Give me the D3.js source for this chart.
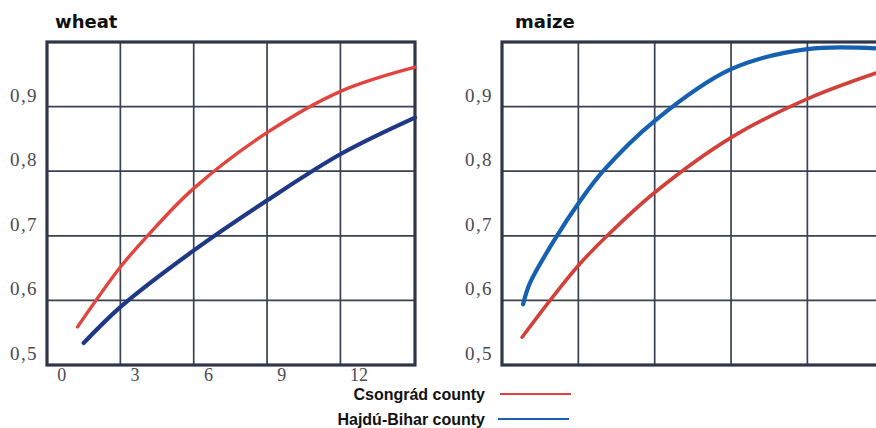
<!DOCTYPE html>
<html>
<head>
<meta charset="utf-8">
<script src="https://cdn.jsdelivr.net/npm/d3@7"></script>
<style>
  html, body { margin: 0; padding: 0; background: #fff; }
  svg { display: block; }
</style>
</head>
<body>
<svg id="chart" width="876" height="428"></svg>
<script>
// tick values / labels
const yTicks = [0.5, 0.6, 0.7, 0.8, 0.9];
const yTickLabels = ["0,5", "0,6", "0,7", "0,8", "0,9"];
const xTicks = [0, 3, 6, 9, 12];
const xTickLabels = ["0", "3", "6", "9", "12"];
const gridX = [2.4, 5.4, 8.4, 11.4];

// wheat
const wheatCsongradX = [0.65, 2.41, 3.51, 5.39, 8.41, 11.43, 14.45];
const wheatCsongradY = [0.559, 0.652, 0.7, 0.773, 0.86, 0.924, 0.961];
const wheatHajduX = [0.9, 2.41, 5.39, 8.41, 11.43, 14.45];
const wheatHajduY = [0.534, 0.59, 0.677, 0.755, 0.827, 0.883];

// maize
const maizeCsongradX = [0.19, 1.29, 2.4, 3.53, 5.4, 8.4, 11.4, 14.1];
const maizeCsongradY = [0.543, 0.6, 0.654, 0.7, 0.767, 0.852, 0.912, 0.952];
const maizeHajduX = [0.23, 0.5, 1.56, 2.4, 3.37, 5.4, 8.4, 11.4, 14.1];
const maizeHajduY = [0.594, 0.627, 0.7, 0.75, 0.8, 0.878, 0.958, 0.989, 0.99];

const legendNames = ["Csongrád county", "Hajdú-Bihar county"];
const legendColors = ["#e2413c", "#1d5fae"];

const svg = d3.select("#chart");

const yScale = d3.scaleLinear().domain([0.5, 1.0]).range([365, 42]);

const zip = (xs, ys) => xs.map((x, i) => [x, ys[i]]);

function drawPanel(opts) {
  const x = d3.scaleLinear().domain([-0.6, 14.45]).range(opts.xRange);
  const g = svg.append("g");
  const [x0, x1] = opts.xRange;
  const yTop = yScale(1.0), yBot = yScale(0.5);

  // title
  g.append("text")
    .attr("x", opts.titleX)
    .attr("y", 28)
    .attr("font-family", "DejaVu Sans, sans-serif")
    .attr("font-weight", "bold")
    .attr("font-size", "18px")
    .attr("fill", "#111")
    .text(opts.title);

  // horizontal grid
  g.selectAll("line.hg")
    .data(yTicks.slice(1))
    .join("line")
    .attr("x1", x0).attr("x2", x1)
    .attr("y1", d => yScale(d)).attr("y2", d => yScale(d))
    .attr("stroke", "#3a4150")
    .attr("stroke-width", 1.7);

  // vertical grid
  g.selectAll("line.vg")
    .data(gridX)
    .join("line")
    .attr("x1", d => x(d)).attr("x2", d => x(d))
    .attr("y1", yTop).attr("y2", yBot)
    .attr("stroke", "#3a4150")
    .attr("stroke-width", 1.7);

  // frame
  g.append("rect")
    .attr("x", x0).attr("y", yTop)
    .attr("width", x1 - x0).attr("height", yBot - yTop)
    .attr("fill", "none")
    .attr("stroke", "#2e3648")
    .attr("stroke-width", 3.2);

  // y labels
  g.selectAll("text.yl")
    .data(yTicks)
    .join("text")
    .attr("x", x0 - 9)
    .attr("y", d => yScale(d) - 5)
    .attr("text-anchor", "end")
    .attr("font-family", "Liberation Serif, serif")
    .attr("font-size", "19px")
    .attr("letter-spacing", "1.4px")
    .attr("fill", "#4a4a52")
    .text((d, i) => yTickLabels[i]);

  if (opts.xLabels) {
    g.selectAll("text.xl")
      .data(xTicks)
      .join("text")
      .attr("x", d => x(d) + (d >= 12 ? 4 : 0))
      .attr("y", 381)
      .attr("text-anchor", "middle")
      .attr("font-family", "Liberation Serif, serif")
      .attr("font-size", "18px")
      .attr("fill", "#4a4a52")
      .text((d, i) => xTickLabels[i]);
  }

  const line = d3.line()
    .x(d => x(d[0]))
    .y(d => yScale(d[1]))
    .curve(d3.curveCatmullRom.alpha(0.5));

  opts.series.forEach(s => {
    g.append("path")
      .attr("d", line(s.pts))
      .attr("fill", "none")
      .attr("stroke", s.color)
      .attr("stroke-width", s.width)
      .attr("stroke-linecap", "round")
      .attr("stroke-linejoin", "round");
  });
}

drawPanel({
  title: "wheat",
  titleX: 55,
  xRange: [47, 415],
  xLabels: true,
  series: [
    { pts: zip(wheatCsongradX, wheatCsongradY), color: "#e2453f", width: 3.4 },
    { pts: zip(wheatHajduX, wheatHajduY), color: "#1f3886", width: 4.2 }
  ]
});

drawPanel({
  title: "maize",
  titleX: 515,
  xRange: [502, 885],
  xLabels: false,
  series: [
    { pts: zip(maizeCsongradX, maizeCsongradY), color: "#d2403a", width: 3.6 },
    { pts: zip(maizeHajduX, maizeHajduY), color: "#1560b0", width: 4.2 }
  ]
});

// legend
const legend = svg.append("g");
const legendY = d3.scalePoint().domain(legendNames).range([395, 420]);
legendNames.forEach((name, i) => {
  const y = legendY(name);
  legend.append("text")
    .attr("x", 485)
    .attr("y", y + 5)
    .attr("text-anchor", "end")
    .attr("font-family", "Liberation Sans, Arial, sans-serif")
    .attr("font-weight", "bold")
    .attr("font-size", "16px")
    .attr("fill", "#111")
    .text(name);
  legend.append("line")
    .attr("x1", 500 - i * 2).attr("x2", 571 - i * 2)
    .attr("y1", y - 1).attr("y2", y - 1)
    .attr("stroke", legendColors[i])
    .attr("stroke-width", 2);
});
</script>
</body>
</html>
